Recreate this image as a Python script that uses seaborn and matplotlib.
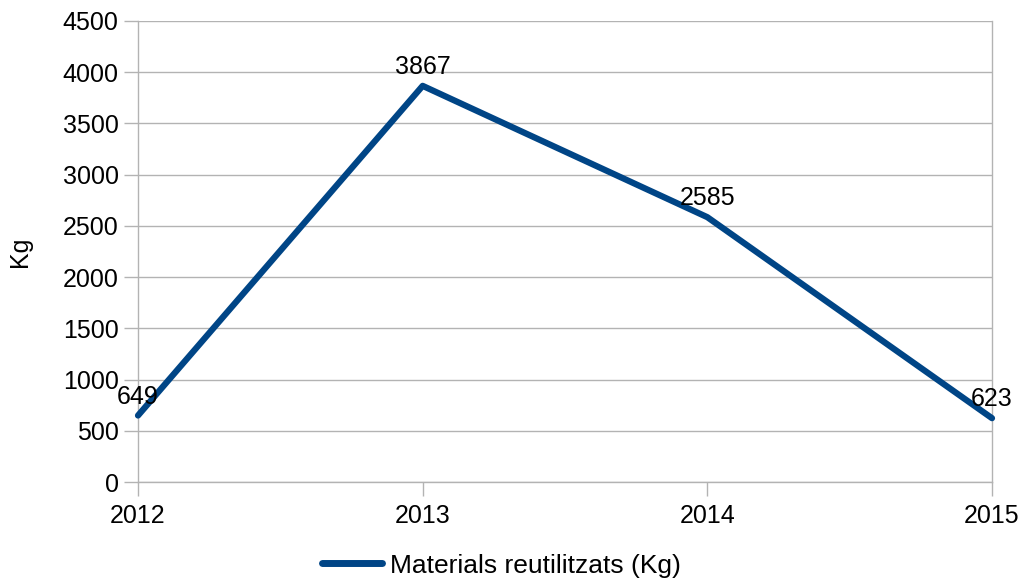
import matplotlib
matplotlib.use("Agg")
import matplotlib.pyplot as plt
import seaborn as sns
import pandas as pd

# data
years = [2012, 2013, 2014, 2015]
kg = [649, 3867, 2585, 623]
series_name = "Materials reutilitzats (Kg)"
y_ticks = list(range(0, 4501, 500))

sns.set_style("white")
plt.rcParams["font.family"] = ["Liberation Sans", "DejaVu Sans"]
plt.rcParams["font.size"] = 18
plt.rcParams["text.color"] = "black"

df = pd.DataFrame({"year": years, "kg": kg})

fig = plt.figure(figsize=(10.23, 5.80), dpi=100)
ax = fig.add_axes([138 / 1023, 1 - 482 / 580, (992 - 138) / 1023, (482 - 21) / 580])

grid_c = "#b3b3b3"
sns.lineplot(data=df, x="year", y="kg", ax=ax, color="#004586", linewidth=4.5,
             label=series_name, legend=False, zorder=3, clip_on=False)

for x, y in zip(years, kg):
    ax.annotate(str(y), (x, y), xytext=(0, 5), textcoords="offset points",
                ha="center", va="bottom", fontsize=18, color="black", zorder=4)

ax.set_xlim(2012, 2015)
ax.set_ylim(0, 4500)
ax.set_xticks(years)
ax.set_xticklabels([str(y) for y in years])
ax.set_yticks(y_ticks)
ax.yaxis.grid(True, color=grid_c, linewidth=1)
ax.xaxis.grid(False)
ax.set_xlabel("")
ax.set_ylabel("Kg", fontsize=18, labelpad=22, color="black")

for side in ["left", "right", "bottom"]:
    ax.spines[side].set_visible(True)
    ax.spines[side].set_color(grid_c)
    ax.spines[side].set_linewidth(1)
ax.spines["top"].set_visible(False)

ax.tick_params(axis="both", length=10, width=1, color=grid_c, labelsize=18,
               labelcolor="black", direction="out", left=True, bottom=True)
ax.tick_params(axis="y", pad=4)
ax.tick_params(axis="x", pad=6)

handles, labels = ax.get_legend_handles_labels()
leg = fig.legend(handles, labels, loc="lower center", bbox_to_anchor=(0.49, -0.037),
                 frameon=False, fontsize=19, handlelength=2.3, handletextpad=0.3)
for t in leg.get_texts():
    t.set_color("black")
for h in leg.get_lines():
    h.set_linewidth(5)

fig.savefig("out.png", dpi=100)
